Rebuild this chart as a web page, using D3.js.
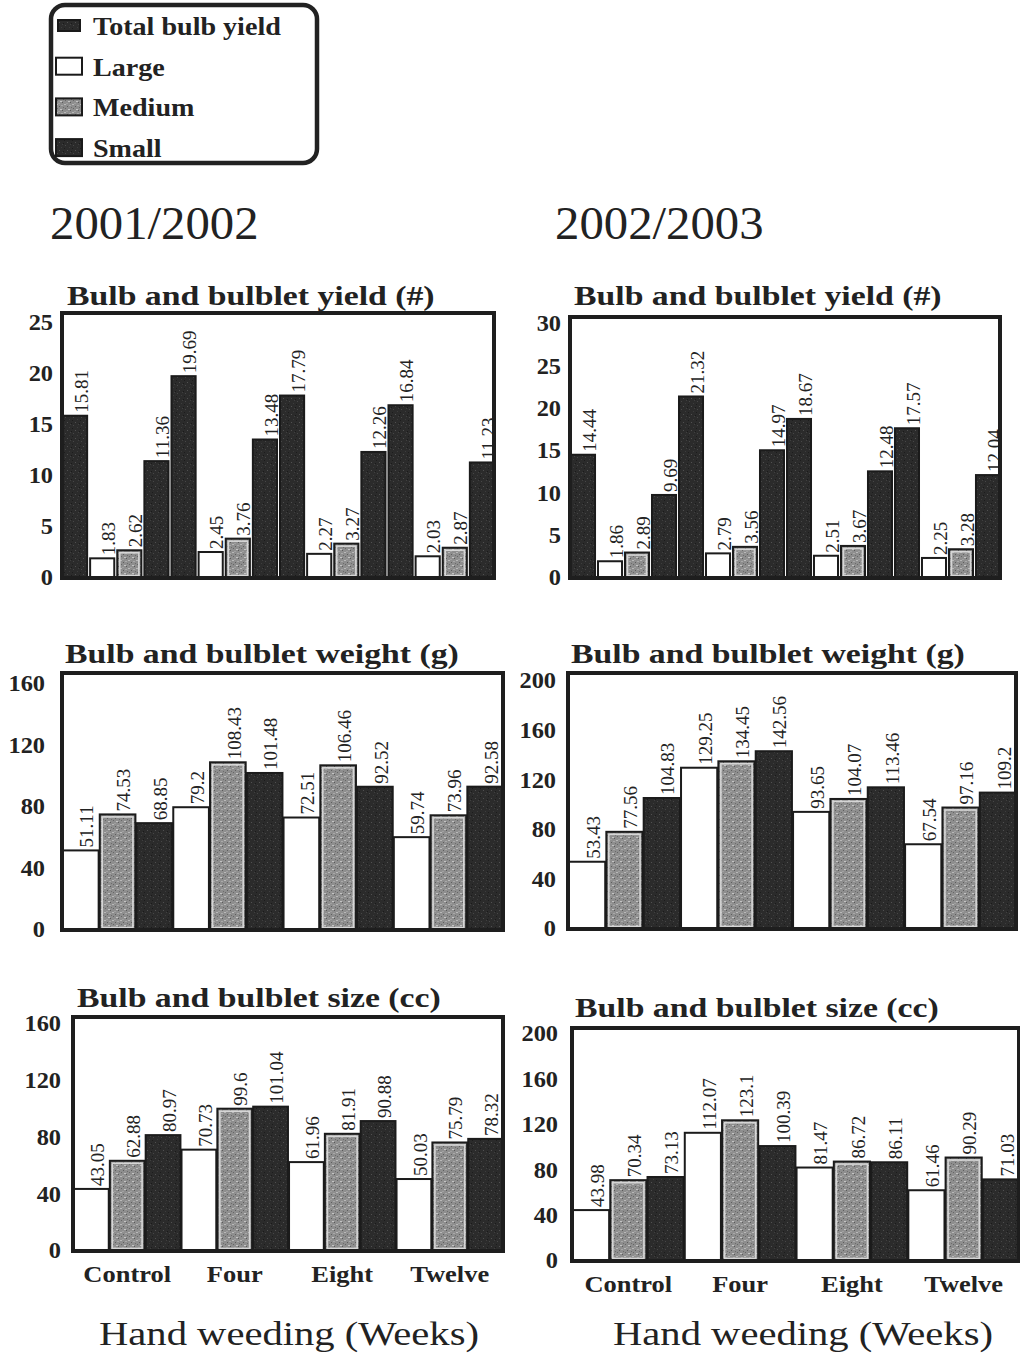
<!DOCTYPE html>
<html>
<head>
<meta charset="utf-8">
<script src="https://cdn.jsdelivr.net/npm/d3@7"></script>
<style>
  html, body { margin: 0; padding: 0; background: #ffffff; }
  svg { display: block; }
  text { font-family: "Liberation Serif", "Times New Roman", serif; fill: #222; }
</style>
</head>
<body>
<svg id="chart" width="1020" height="1357"></svg>
<script>
// ---- data -------------------------------------------------------------
const categories = ["Control", "Four", "Eight", "Twelve"];
const seriesNames = ["Total bulb yield", "Large", "Medium", "Small"];
const yearLabels = ["2001/2002", "2002/2003"];
const xAxisTitle = "Hand weeding (Weeks)";

// Bulb and bulblet yield (#)
const yieldTotal2001  = [15.81, 19.69, 17.79, 16.84];
const yieldLarge2001  = [1.83, 2.45, 2.27, 2.03];
const yieldMedium2001 = [2.62, 3.76, 3.27, 2.87];
const yieldSmall2001  = [11.36, 13.48, 12.26, 11.23];

const yieldTotal2002  = [14.44, 21.32, 18.67, 17.57];
const yieldLarge2002  = [1.86, 2.79, 2.51, 2.25];
const yieldMedium2002 = [2.89, 3.56, 3.67, 3.28];
const yieldSmall2002  = [9.69, 14.97, 12.48, 12.04];

// Bulb and bulblet weight (g)
const weightLarge2001  = [51.11, 79.2, 72.51, 59.74];
const weightMedium2001 = [74.53, 108.43, 106.46, 73.96];
const weightSmall2001  = [68.85, 101.48, 92.52, 92.58];

const weightLarge2002  = [53.43, 129.25, 93.65, 67.54];
const weightMedium2002 = [77.56, 134.45, 104.07, 97.16];
const weightSmall2002  = [104.83, 142.56, 113.46, 109.2];

// Bulb and bulblet size (cc)
const sizeLarge2001  = [43.05, 70.73, 61.96, 50.03];
const sizeMedium2001 = [62.88, 99.6, 81.91, 75.79];
const sizeSmall2001  = [80.97, 101.04, 90.88, 78.32];

const sizeLarge2002  = [43.98, 112.07, 81.47, 61.46];
const sizeMedium2002 = [70.34, 123.1, 86.72, 90.29];
const sizeSmall2002  = [73.13, 100.39, 86.11, 71.03];

// axis ticks
const yieldTicks2001  = [0, 5, 10, 15, 20, 25];
const yieldTicks2002  = [0, 5, 10, 15, 20, 25, 30];
const weightTicks2001 = [0, 40, 80, 120, 160];
const weightTicks2002 = [0, 40, 80, 120, 160, 200];
const sizeTicks2001   = [0, 40, 80, 120, 160];
const sizeTicks2002   = [0, 40, 80, 120, 160, 200];

// ---- layout -----------------------------------------------------------
const svg = d3.select("#chart");
const FONT = '"Liberation Serif", "Times New Roman", serif';

// stretch text horizontally by factor k (the printed type is set wide)
function stretch(sel, k) {
  sel.each(function () {
    const n = this.getComputedTextLength();
    d3.select(this).attr("textLength", n * k).attr("lengthAdjust", "spacingAndGlyphs");
  });
}

// fill textures
const defs = svg.append("defs");
function speckle(id, base, dots, size) {
  const p = defs.append("pattern").attr("id", id)
    .attr("patternUnits", "userSpaceOnUse").attr("width", size).attr("height", size);
  p.append("rect").attr("width", size).attr("height", size).attr("fill", base);
  dots.forEach(d => p.append("rect").attr("x", d[0]).attr("y", d[1])
    .attr("width", d[2] || 1).attr("height", d[3] || 1).attr("fill", d[4]));
}
speckle("darkFill", "#2b2b2b", [
  [1, 1, 1, 1, "#474747"], [5, 3, 1, 1, "#3d3d3d"], [3, 6, 1, 1, "#505050"],
  [7, 7, 1, 1, "#1a1a1a"], [0, 4, 1, 1, "#1c1c1c"], [6, 0, 1, 1, "#404040"]
], 8);
speckle("medFill", "#8e8e8e", [
  [0, 0, 2, 1, "#b9b9b9"], [3, 2, 1, 1, "#5e5e5e"], [5, 1, 2, 1, "#a9a9a9"],
  [1, 4, 1, 1, "#666"], [4, 5, 2, 1, "#c4c4c4"], [6, 6, 1, 1, "#5a5a5a"],
  [2, 7, 2, 1, "#a0a0a0"], [7, 3, 1, 1, "#6c6c6c"]
], 8);

// how each series is painted
const seriesStyle = {
  "Total bulb yield": { fill: "url(#darkFill)", inner: false },
  "Large":            { fill: "#ffffff", inner: false },
  "Medium":           { fill: "url(#medFill)", inner: true },
  "Small":            { fill: "url(#darkFill)", inner: false }
};

// ---- legend -----------------------------------------------------------
const legend = svg.append("g");
legend.append("rect").attr("x", 51).attr("y", 5).attr("width", 266).attr("height", 158)
  .attr("rx", 14).attr("fill", "none").attr("stroke", "#222").attr("stroke-width", 4.5);
seriesNames.forEach((name, i) => {
  const base = 35 + i * 40.7;
  const st = seriesStyle[name];
  const small = i === 0;
  legend.append("rect")
    .attr("x", small ? 58 : 56).attr("y", small ? base - 15 : base - 18)
    .attr("width", small ? 22 : 26).attr("height", small ? 11 : 17)
    .attr("fill", st.fill).attr("stroke", "#1a1a1a").attr("stroke-width", 2);
  legend.append("text").attr("x", 93).attr("y", base)
    .attr("font-size", 26).attr("font-weight", "bold").text(name)
    .call(stretch, 1.08);
});

// ---- year headings ------------------------------------------------------
[[50, yearLabels[0]], [555, yearLabels[1]]].forEach(([x, t]) => {
  svg.append("text").attr("x", x).attr("y", 239).attr("font-size", 46)
    .attr("fill", "#2a2a2a").text(t).call(stretch, 1.06);
});

// ---- panels ---------------------------------------------------------------
const panels = [
  { title: "Bulb and bulblet yield (#)", titleX: 67, titleY: 305,
    frame: [62, 313, 494, 578], yRange: [577, 322], tickX: 53, ticks: yieldTicks2001,
    domainMax: 25, pad: 0.11,
    series: { "Total bulb yield": yieldTotal2001, "Large": yieldLarge2001,
              "Medium": yieldMedium2001, "Small": yieldSmall2001 } },
  { title: "Bulb and bulblet yield (#)", titleX: 574, titleY: 305,
    frame: [570, 317, 1000, 578], yRange: [577, 323], tickX: 561, ticks: yieldTicks2002,
    domainMax: 30, pad: 0.11,
    series: { "Total bulb yield": yieldTotal2002, "Large": yieldLarge2002,
              "Medium": yieldMedium2002, "Small": yieldSmall2002 } },
  { title: "Bulb and bulblet weight (g)", titleX: 65, titleY: 663,
    frame: [62, 673, 503, 930], yRange: [929, 683], tickX: 45, ticks: weightTicks2001,
    domainMax: 160, pad: 0.03,
    series: { "Large": weightLarge2001, "Medium": weightMedium2001, "Small": weightSmall2001 } },
  { title: "Bulb and bulblet weight (g)", titleX: 571, titleY: 663,
    frame: [568, 673, 1016, 929], yRange: [928, 680], tickX: 556, ticks: weightTicks2002,
    domainMax: 200, pad: 0.03,
    series: { "Large": weightLarge2002, "Medium": weightMedium2002, "Small": weightSmall2002 } },
  { title: "Bulb and bulblet size (cc)", titleX: 77, titleY: 1007,
    frame: [73, 1017, 503, 1251], yRange: [1250, 1023], tickX: 61, ticks: sizeTicks2001,
    domainMax: 160, pad: 0.03, catY: 1282, xTitleX: 289,
    series: { "Large": sizeLarge2001, "Medium": sizeMedium2001, "Small": sizeSmall2001 } },
  { title: "Bulb and bulblet size (cc)", titleX: 575, titleY: 1017,
    frame: [572, 1028, 1019, 1261], yRange: [1260, 1033], tickX: 558, ticks: sizeTicks2002,
    domainMax: 200, pad: 0.03, catY: 1292, xTitleX: 803,
    series: { "Large": sizeLarge2002, "Medium": sizeMedium2002, "Small": sizeSmall2002 } }
];

panels.forEach(p => {
  const g = svg.append("g");
  const [fx0, fy0, fx1, fy1] = p.frame;
  const names = seriesNames.filter(n => p.series[n]);

  // flatten into category-major order
  const rows = [];
  categories.forEach((c, ci) => names.forEach(n => rows.push({
    key: c + "|" + n, cat: c, series: n, value: p.series[n][ci]
  })));

  const x = d3.scaleBand().domain(rows.map(d => d.key))
    .range([fx0 + 1, fx1]).paddingInner(p.pad).paddingOuter(0);
  const y = d3.scaleLinear().domain([0, p.domainMax]).range(p.yRange);

  // title
  g.append("text").attr("x", p.titleX).attr("y", p.titleY)
    .attr("font-size", 27).attr("font-weight", "bold").attr("fill", "#262626")
    .text(p.title).call(stretch, 1.25);

  // y axis labels
  const yAxis = d3.axisLeft(y).tickValues(p.ticks).tickSize(0).tickPadding(0);
  const ax = g.append("g").attr("transform", `translate(${p.tickX},0)`).call(yAxis);
  ax.select(".domain").remove();
  ax.selectAll("text").attr("font-family", FONT).attr("font-size", 23)
    .attr("font-weight", "bold").attr("fill", "#2a2a2a").attr("x", 0)
    .attr("dy", "0.34em").call(stretch, 1.06);

  // bars
  const bars = g.append("g").selectAll("g").data(rows).join("g");
  bars.append("rect")
    .attr("x", d => x(d.key)).attr("y", d => y(d.value))
    .attr("width", x.bandwidth()).attr("height", d => y(0) - y(d.value))
    .attr("fill", d => seriesStyle[d.series].fill)
    .attr("stroke", "#1b1b1b").attr("stroke-width", 2);
  bars.filter(d => seriesStyle[d.series].inner).append("rect")
    .attr("x", d => x(d.key) + 2.5).attr("y", d => y(d.value) + 2.5)
    .attr("width", x.bandwidth() - 5).attr("height", d => Math.max(0, y(0) - y(d.value) - 4))
    .attr("fill", "none").attr("stroke", "#d6d6d6").attr("stroke-width", 1.6);

  // value labels, rotated, sitting on each bar
  bars.append("text")
    .attr("transform", d => `translate(${x(d.key) + x.bandwidth() / 2 + 6},${y(d.value) - 3}) rotate(-90)`)
    .attr("dy", "0.35em").attr("font-size", 19).attr("fill", "#222")
    .text(d => String(d.value));

  // frame
  g.append("rect").attr("x", fx0).attr("y", fy0)
    .attr("width", fx1 - fx0).attr("height", fy1 - fy0)
    .attr("fill", "none").attr("stroke", "#1e1e1e").attr("stroke-width", 4);

  // category labels and axis title on the bottom row
  if (p.catY) {
    const groupCenter = c => {
      const keys = names.map(n => c + "|" + n);
      return (x(keys[0]) + x(keys[keys.length - 1]) + x.bandwidth()) / 2;
    };
    g.append("g").selectAll("text").data(categories).join("text")
      .attr("x", d => groupCenter(d)).attr("y", p.catY)
      .attr("text-anchor", "middle").attr("font-size", 23).attr("font-weight", "bold")
      .attr("fill", "#333").text(d => d).call(stretch, 1.15);
    g.append("text").attr("x", p.xTitleX).attr("y", 1345).attr("text-anchor", "middle")
      .attr("font-size", 33).attr("fill", "#2a2a2a").text(xAxisTitle).call(stretch, 1.23);
  }
});
</script>
</body>
</html>
